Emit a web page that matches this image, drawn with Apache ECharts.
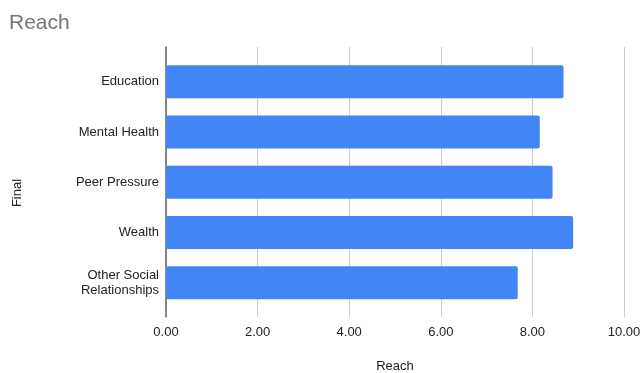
<!DOCTYPE html>
<html>
<head>
<meta charset="utf-8">
<script src="https://cdn.jsdelivr.net/npm/echarts@6/dist/echarts.min.js"></script>
<style>
  html, body { margin: 0; padding: 0; background: #fff; }
  #chart { width: 642px; height: 373px; }
</style>
</head>
<body>
<div id="chart"></div>
<script>
// data
var categories = ['Education', 'Mental Health', 'Peer Pressure', 'Wealth', 'Other Social\nRelationships'];
var reach = [8.68, 8.16, 8.44, 8.89, 7.68];
var xTicks = [0, 2, 4, 6, 8, 10];

var FONT = '"Liberation Sans", Arial, sans-serif';
var myChart = echarts.init(document.getElementById('chart'));

var option = {
    animation: false,
    backgroundColor: '#fff',
    textStyle: { fontFamily: FONT },
    title: {
        text: 'Reach',
        left: 4,
        top: 8,
        textStyle: { color: '#757575', fontSize: 21, fontWeight: 'normal', fontFamily: FONT }
    },
    graphic: [{
        type: 'text',
        x: 17,
        y: 193,
        rotation: Math.PI / 2,
        style: {
            text: 'Final',
            fill: '#222',
            font: '13px ' + FONT,
            align: 'center',
            verticalAlign: 'middle'
        }
    }],
    grid: [
        // bars
        { left: 166, right: 18, top: 56.5, height: 251.5, outerBoundsMode: 'none', containLabel: false },
        // gridlines / axis frame
        { left: 166, right: 18, top: 47, height: 270, outerBoundsMode: 'none', containLabel: false }
    ],
    xAxis: [
        { gridIndex: 0, type: 'value', min: 0, max: 10, show: false },
        {
            gridIndex: 1,
            type: 'value',
            min: xTicks[0],
            max: xTicks[xTicks.length - 1],
            interval: 2,
            name: 'Reach',
            nameLocation: 'middle',
            nameGap: 43,
            nameTextStyle: { color: '#222', fontSize: 13, fontFamily: FONT },
            axisLine: { show: false },
            axisTick: { show: false },
            axisLabel: {
                color: '#222',
                fontSize: 13,
                fontFamily: FONT,
                margin: 9,
                formatter: function (v) { return v.toFixed(2); }
            },
            splitLine: { show: true, lineStyle: { color: '#cccccc', width: 1 } }
        }
    ],
    yAxis: [
        {
            gridIndex: 0,
            type: 'category',
            inverse: true,
            data: categories,
            axisLine: { show: false },
            axisTick: { show: false },
            axisLabel: { color: '#222', fontSize: 13, fontFamily: FONT, margin: 7, lineHeight: 15, align: 'right' },
            splitLine: { show: false }
        },
        {
            gridIndex: 1,
            type: 'value',
            min: 0,
            max: 1,
            axisLine: { show: true, lineStyle: { color: '#666', width: 1.5 } },
            axisTick: { show: false },
            axisLabel: { show: false },
            splitLine: { show: false }
        }
    ],
    series: [{
        type: 'bar',
        xAxisIndex: 0,
        yAxisIndex: 0,
        data: reach,
        barWidth: 33,
        z: 3,
        itemStyle: { color: '#4285f4', borderRadius: 2 }
    }]
};

myChart.setOption(option);
window.addEventListener('resize', function () { myChart.resize(); });
</script>
</body>
</html>
